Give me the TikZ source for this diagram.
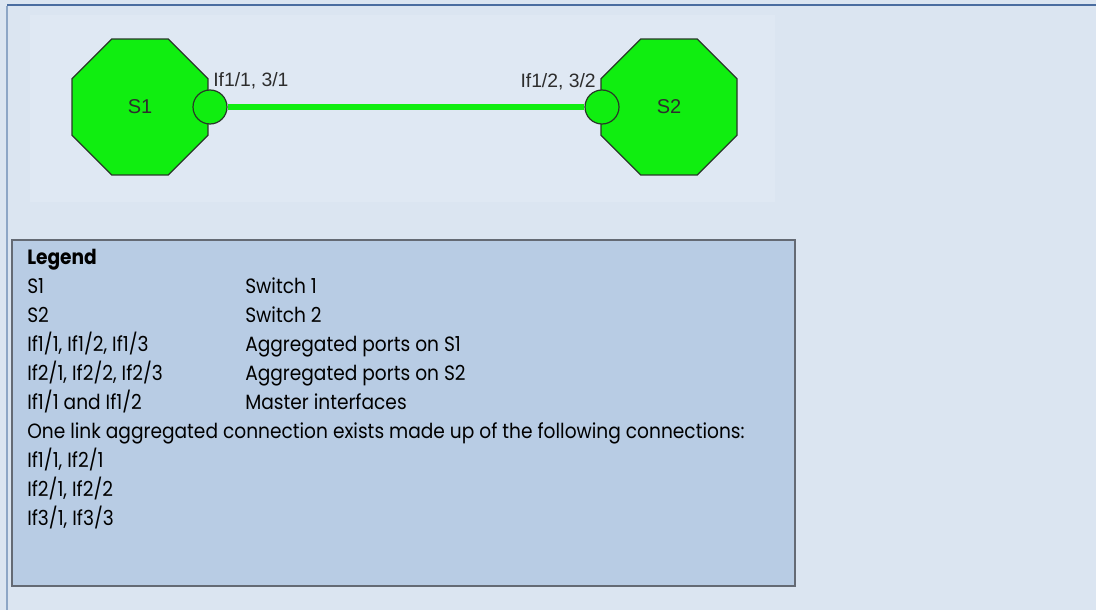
\documentclass[tikz,border=0pt]{standalone}
\usepackage{fontspec}
\setmainfont{Poppins}[FakeStretch=0.9]
\newfontfamily\arialfont{Liberation Sans}
\usepackage{tikz}
\usetikzlibrary{shapes.geometric}
\definecolor{PageBlue}{RGB}{219,229,241}
\definecolor{PanelBlue}{RGB}{223,232,243}
\definecolor{LegendFill}{RGB}{184,204,228}
\definecolor{LegendEdge}{RGB}{100,106,116}
\definecolor{RuleBlue}{RGB}{74,109,160}
\definecolor{SideBlue}{RGB}{141,166,198}
\definecolor{SwitchGreen}{RGB}{16,238,16}
\definecolor{SwitchEdge}{RGB}{40,56,40}
\definecolor{LabelGrey}{RGB}{45,45,45}

\begin{document}
\begin{tikzpicture}[x=0.75pt, y=-0.75pt,
    switchnode/.style={regular polygon, regular polygon sides=8, minimum size=110.4pt, inner sep=0pt, fill=SwitchGreen, draw=SwitchEdge, line width=0.9pt, font=\arialfont\fontsize{15}{17}\selectfont, text=LabelGrey},
    portnode/.style={circle, minimum size=25.5pt, inner sep=0pt, fill=SwitchGreen, draw=SwitchEdge, line width=0.9pt},
    portlabel/.style={inner sep=0pt, font=\arialfont\fontsize{14.5}{16}\selectfont, text=LabelGrey},
    legendtext/.style={anchor=base west, inner sep=0pt, font=\fontsize{15.5}{18}\selectfont}]
    \useasboundingbox (0,0) rectangle (1096,610);
    % Page background and frame
    \fill[PageBlue] (0,0) rectangle (1096,610);
    \fill[PanelBlue] (30,15) rectangle (775,202);
    \draw[line width=1.5pt, color=RuleBlue] (7,5) -- (1096,5);
    \draw[line width=1.5pt, color=SideBlue] (7,6) -- (7,610);

    % Switches and their aggregated ports
    \node[switchnode] (s1) at (140,107) {S1};
    \node[switchnode] (s2) at (669,107) {S2};
    \node[portnode] (p1) at (210,107) {};
    \node[portnode] (p2) at (602,107) {};
    \draw[line width=5pt, color=SwitchGreen] (p1) -- (p2);
    \node[portlabel, anchor=base west] (l1) at (213,87) {If1/1, 3/1};
    \node[portlabel, anchor=base east] (l2) at (596,88) {If1/2, 3/2};

    % Legend box
    \draw[line width=1.5pt, draw=LegendEdge, fill=LegendFill] (12,240) rectangle (795,586);
    \node[legendtext, font=\bfseries\fontsize{15.5}{18}\selectfont] (lgtitle) at (27,264) {Legend};
    \node[legendtext] (lgs1) at (27,293) {S1};
    \node[legendtext] (lgs1d) at (245,293) {Switch 1};
    \node[legendtext] (lgs2) at (27,322) {S2};
    \node[legendtext] (lgs2d) at (245,322) {Switch 2};
    \node[legendtext] (lgpa) at (27,351) {If1/1, If1/2, If1/3};
    \node[legendtext] (lgpad) at (245,351) {Aggregated ports on S1};
    \node[legendtext] (lgpb) at (27,380) {If2/1, If2/2, If2/3};
    \node[legendtext] (lgpbd) at (245,380) {Aggregated ports on S2};
    \node[legendtext] (lgm) at (27,409) {If1/1 and If1/2};
    \node[legendtext] (lgmd) at (245,409) {Master interfaces};
    \node[legendtext] (lgnote) at (27,438) {One link aggregated connection exists made up of the following connections:};
    \node[legendtext] (lgc1) at (27,467) {If1/1, If2/1};
    \node[legendtext] (lgc2) at (27,496) {If2/1, If2/2};
    \node[legendtext] (lgc3) at (27,525) {If3/1, If3/3};
\end{tikzpicture}
\end{document}
